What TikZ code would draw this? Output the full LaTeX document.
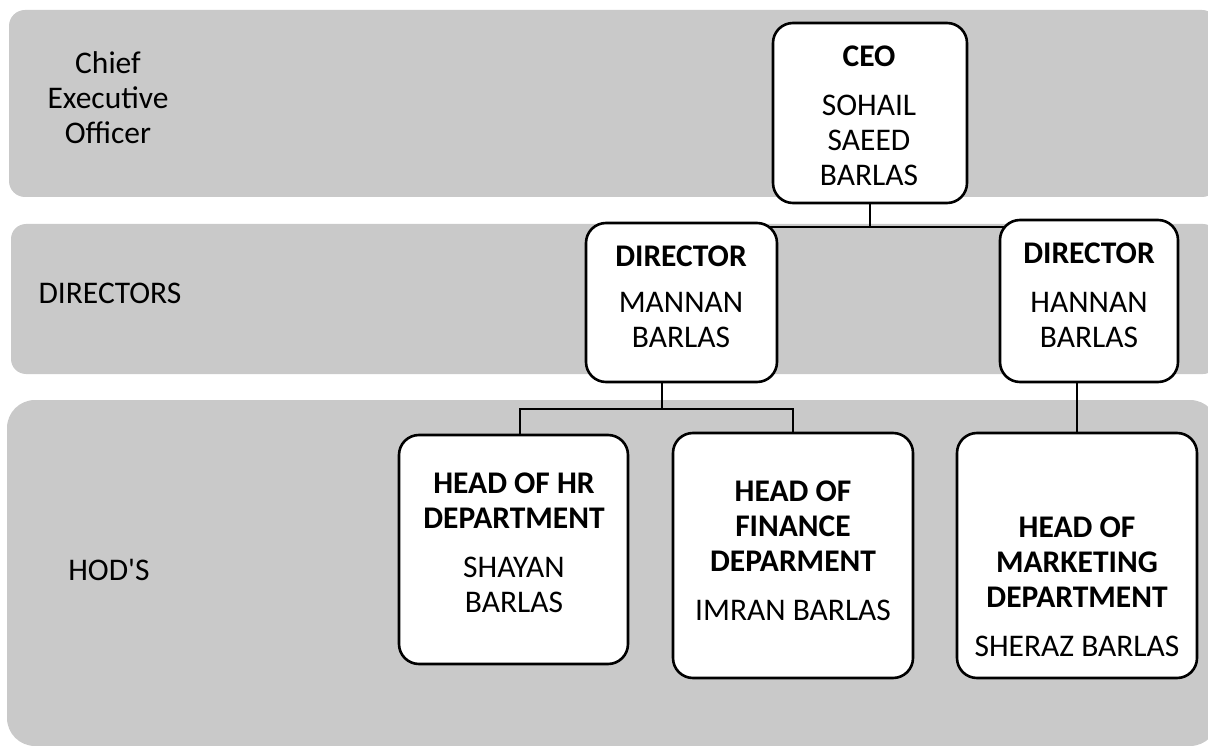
\documentclass[tikz,border=0pt]{standalone}
\usepackage{fontspec}
\setmainfont{Carlito}
\pgfdeclarelayer{bands}
\pgfdeclarelayer{links}
\pgfsetlayers{bands,links,main}
\definecolor{bandgray}{RGB}{201,201,201}
\tikzset{
  band/.style={fill=bandgray, draw=none},
  post/.style={draw=black, line width=2.6pt, fill=white, rounded corners=20pt,
               rectangle, inner sep=0pt},
  txt/.style={font=\fontsize{31.5}{35}\selectfont, align=center, inner sep=0pt},
  link/.style={draw=black, line width=2.6pt},
}
\begin{document}
\begin{tikzpicture}[x=1pt, y=-1pt]
  \useasboundingbox (0,0) rectangle (1208,746);
  \clip (0,0) rectangle (1208,746);

  % level bands
  \begin{pgfonlayer}{bands}
    \fill[band, rounded corners=16pt] (9,10) rectangle (1218,197);
    \fill[band, rounded corners=15pt] (11,224) rectangle (1218,374);
    \fill[band, rounded corners=28pt] (7,400) rectangle (1218,746);
  \end{pgfonlayer}

  % level captions
  \node[txt] (lvlceo) at (108,97.5) {Chief\\Executive\\Officer};
  \node[txt] (lvldir) at (110,293) {DIRECTORS};
  \node[txt] (lvlhod) at (109,570) {HOD\textquotesingle S};

  % position boxes
  \node[post, minimum width=194pt, minimum height=180pt] (ceo)    at (870,113)   {};
  \node[post, minimum width=191pt, minimum height=159pt] (mannan) at (681.5,302.5) {};
  \node[post, minimum width=178pt, minimum height=162pt] (hannan) at (1089,301)  {};
  \node[post, minimum width=229pt, minimum height=229pt] (hr)     at (513.5,549.5) {};
  \node[post, minimum width=240pt, minimum height=245pt] (fin)    at (793,555.5) {};
  \node[post, minimum width=240pt, minimum height=245pt] (mkt)    at (1077,555.5) {};

  % box contents
  \node[txt] (ceot)    at (869,115.5) {\textbf{CEO}\\[14pt]SOHAIL\\SAEED\\BARLAS};
  \node[txt] (mannant) at (681,296.5) {\textbf{DIRECTOR}\\[11pt]MANNAN\\BARLAS};
  \node[txt] (hannant) at (1089,295)  {\textbf{DIRECTOR}\\[14pt]HANNAN\\BARLAS};
  \node[txt] (hrt)     at (514,542.5) {\textbf{HEAD OF HR}\\\textbf{DEPARTMENT}\\[14pt]SHAYAN\\BARLAS};
  \node[txt] (fint)    at (793,551)   {\textbf{HEAD OF}\\\textbf{FINANCE}\\\textbf{DEPARMENT}\\[14pt]IMRAN BARLAS};
  \node[txt] (mktt)    at (1077,586.5) {\textbf{HEAD OF}\\\textbf{MARKETING}\\\textbf{DEPARTMENT}\\[14pt]SHERAZ BARLAS};

  % reporting lines
  \coordinate (busA) at (870,227);
  \coordinate (busB) at (662,409);
  \coordinate (hrIn) at (520,409);
  \coordinate (finIn) at (793,409);
  \begin{pgfonlayer}{links}
    \draw[link] (ceo.south) -- (busA);
    \draw[link] (busA -| mannan.center) -- (busA -| hannan.center);
    \draw[link] (busB |- mannan.south) -- (busB);
    \draw[link] (hrIn |- hr.north) -- (hrIn) -- (finIn) -- (finIn |- fin.north);
    \draw[link] (mkt.north |- hannan.south) -- (mkt.north);
  \end{pgfonlayer}
\end{tikzpicture}
\end{document}
